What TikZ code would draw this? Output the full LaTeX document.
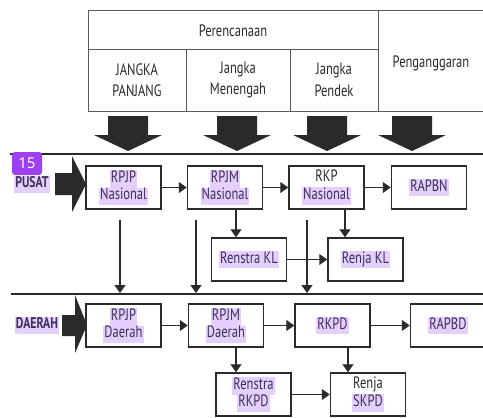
\documentclass[tikz,border=0pt]{standalone}
\usepackage{fontspec}
\setmainfont{PT Sans}[FakeStretch=0.76]
\newfontfamily\badgefont{Noto Sans}
\usetikzlibrary{arrows.meta,positioning}

\definecolor{ink}{HTML}{2A2A2A}
\definecolor{tablegray}{HTML}{5A5A5A}
\definecolor{hlfill}{HTML}{E4CFFF}
\definecolor{hlink}{HTML}{3F2F5C}
\definecolor{badge}{HTML}{9E3FF2}
\newcommand{\hl}[1]{{\setlength{\fboxsep}{0pt}\colorbox{hlfill}{\color{hlink}\strut\kern1pt#1\kern1pt}}}

\begin{document}
\begin{tikzpicture}[x=1pt,y=-1pt,
            box/.style={draw=ink,line width=1.5pt,minimum width=75pt,minimum height=43pt,inner sep=0pt},
            every node/.style={align=center,font=\fontsize{16.5}{17.5}\selectfont,text=ink},
            to/.style={-{Triangle[length=8pt,width=11pt]},line width=1.3pt,draw=ink},
            grid/.style={draw=tablegray,line width=0.9pt},
            level/.style={font=\fontsize{15.5}{17}\selectfont\bfseries},
            head/.style={font=\fontsize{16.5}{21.5}\selectfont},
            node distance=25pt
  ]
  \useasboundingbox (0,0) rectangle (483,418);

  % table header
  \draw[grid] (483,10) -- (88,10) -- (88,111) -- (483,111);
  \draw[grid] (88,49) -- (378,49);
  \draw[grid] (186,49) -- (186,111) (290,49) -- (290,111) (378,10) -- (378,111);
  \node (plan) at (233,31) {Perencanaan};
  \node[head] (long) at (137,80) {JANGKA\\PANJANG};
  \node[head] (mid) at (238,80) {Jangka\\Menengah};
  \node[head] (short) at (334,80) {Jangka\\Pendek};
  \node (budget) at (431,63) {Penganggaran};

  % fat arrows
  \foreach \x in {128,237,327,412}
    \fill[ink] ({\x-20},116) -- ({\x+20},116) -- ({\x+20},135) -- ({\x+34},135)
      -- (\x,151) -- ({\x-34},135) -- ({\x-20},135) -- cycle;
  \fill[ink] (55,173) -- (72,173) -- (72,156) -- (86,184) -- (72,212) -- (72,195) -- (55,195) -- cycle;
  \fill[ink] (62,315) -- (75,315) -- (75,295) -- (87,325) -- (75,353) -- (75,336) -- (62,336) -- cycle;

  % levels
  \draw[ink,line width=1.4pt] (10,154) -- (483,154);
  \draw[ink,line width=1.4pt] (11,294) -- (483,294);
  \node[level] (pusat) at (32,184) {\hl{PUSAT}};
  \node[level] (daerah) at (37,325) {\hl{DAERAH}};
  \node[fill=badge,rounded corners=3pt,minimum width=30pt,minimum height=23pt,inner sep=0pt,
        text=white,font=\badgefont\fontsize{15}{15}\selectfont] (page) at (27,163.5) {15};

  % pusat
  \node[box] (rpjpn) at (123.5,187.5) {\hl{RPJP}\\\hl{Nasional}};
  \node[box, right=of rpjpn] (rpjmn) {\hl{RPJM}\\\hl{Nasional}};
  \node[box, right=of rpjmn] (rkpn) {RKP\\\hl{Nasional}};
  \node[box, right=26pt of rkpn] (rapbn) {\hl{RAPBN}};
  \node[box] (renstrakl) at (249,259.5) {\hl{Renstra KL}};
  \node[box] (renjakl) at (365.5,259.5) {\hl{Renja KL}};

  % daerah
  \node[box] (rpjpd) at (123.5,325.5) {\hl{RPJP}\\\hl{Daerah}};
  \node[box, right=26pt of rpjpd] (rpjmd) {\hl{RPJM}\\\hl{Daerah}};
  \node[box, right=30pt of rpjmd] (rkpd) {\hl{RKPD}};
  \node[box, right=39pt of rkpd] (rapbd) {\hl{RAPBD}};
  \node[box] (renstrarkpd) at (253.5,394.5) {\hl{Renstra}\\\hl{RKPD}};
  \node[box] (renjaskpd) at (368,394.5) {Renja\\\hl{SKPD}};

  \coordinate (kl) at (236,0);
  \coordinate (rk) at (345,0);
  \coordinate (sk) at (348,0);

  \draw[to] (rpjpn) -- (rpjmn);
  \draw[to] (rpjmn) -- (rkpn);
  \draw[to] (rkpn) -- (rapbn);
  \draw[to] (rpjmn.south -| kl) -- (renstrakl.north -| kl);
  \draw[to] (rkpn.south -| rk) -- (renjakl.north -| rk);
  \draw[to] (renstrakl) -- (renjakl);
  \foreach \x [count=\i] in {120,196,307} {
    \coordinate (top\i) at (\x,220);
    \coordinate (bot\i) at (\x,293);
    \draw[to] (top\i) -- (bot\i);
  }

  \draw[to] (rpjpd) -- (rpjmd);
  \draw[to] (rpjmd) -- (rkpd);
  \draw[to] (rkpd) -- (rapbd);
  \draw[to] (rpjmd.south -| kl) -- (renstrarkpd.north -| kl);
  \draw[to] (rkpd.south -| sk) -- (renjaskpd.north -| sk);
  \draw[to] (renstrarkpd) -- (renjaskpd);

\end{tikzpicture}
\end{document}
